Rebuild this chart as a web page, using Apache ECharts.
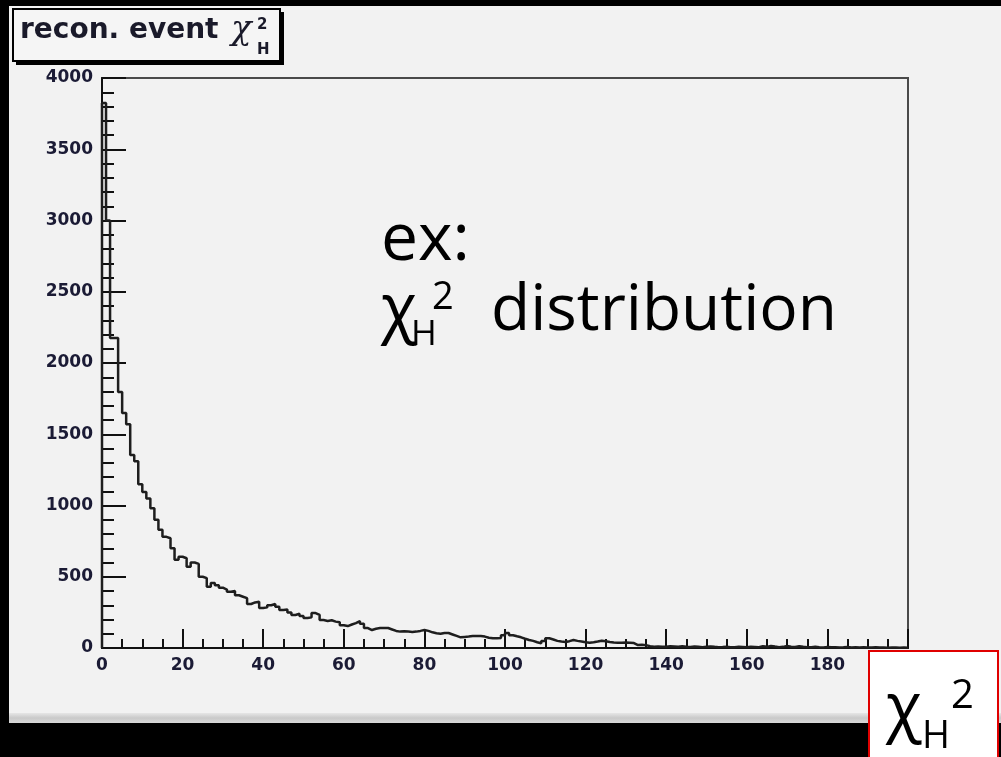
<!DOCTYPE html>
<html>
<head>
<meta charset="utf-8">
<script src="https://cdn.jsdelivr.net/npm/echarts@6/dist/echarts.min.js"></script>
<style>
html,body{margin:0;padding:0;background:#000;}
#c{width:1001px;height:757px;}
</style>
</head>
<body>
<div id="c"></div>
<script>
// ---- data ----
const xMin = 0;
const xMax = 200;
const binWidth = 1;
const yMin = 0;
const yMax = 4000;
const xTickStep = 20;
const yTickStep = 500;
const counts = [
  3825, 3000, 2175, 2175, 1796, 1650, 1570, 1354, 1310, 1150,
  1095, 1050, 980, 900, 830, 780, 770, 700, 620, 640,
  630, 570, 600, 590, 500, 490, 430, 456, 440, 423,
  410, 395, 400, 370, 360, 350, 309, 320, 325, 280,
  285, 300, 309, 290, 267, 270, 250, 232, 240, 225,
  210, 215, 245, 232, 196, 190, 195, 185, 180, 160,
  154, 165, 175, 189, 170, 140, 126, 135, 140, 140,
  140, 130, 120, 115, 118, 115, 112, 115, 120, 126,
  120, 110, 103, 100, 105, 105, 95, 85, 75, 78,
  80, 84, 84, 84, 80, 72, 68, 68, 70, 90,
  105, 90, 82, 75, 65, 56, 50, 40, 33, 50,
  68, 60, 50, 45, 42, 48, 56, 50, 45, 40,
  37, 40, 45, 51, 48, 42, 38, 37, 36, 38,
  37, 35, 21, 22, 20, 12, 9, 10, 8, 9,
  12, 10, 8, 12, 9, 7, 10, 8, 6, 9,
  11, 8, 6, 7, 9, 6, 5, 8, 7, 6,
  9, 7, 5, 12, 8, 15, 10, 6, 8, 14,
  9, 7, 12, 8, 6, 5, 9, 6, 4, 7,
  5, 6, 4, 5, 7, 3, 5, 4, 6, 3,
  4, 5, 3, 4, 2, 3, 4, 2, 3, 2
];
const titleText = "recon. event ";
const titleSymbol = "χ";
const annotLine1 = "ex:";
const annotLine2 = "distribution";
const chiSymbol = "χ";
const subH = "H";
const sup2 = "2";

// ---- build step outline ----
const stepData = [[xMin, 0]];
counts.forEach((c, i) => stepData.push([xMin + i * binWidth, c]));
stepData.push([xMin + counts.length * binWidth, counts[counts.length - 1]]);

const labelColor = '#1b1b35';
const labelFont = {fontFamily: 'DejaVu Sans', fontWeight: 'bold', fontSize: 17, color: labelColor};

const chart = echarts.init(document.getElementById('c'), null, {renderer: 'canvas'});
chart.setOption({
  animation: false,
  backgroundColor: '#f2f2f2',
  grid: {
    left: 102, right: 93, top: 78, bottom: 109,
    show: true, borderColor: '#4a4a4a', borderWidth: 2, backgroundColor: 'transparent'
  },
  xAxis: {
    type: 'value', min: xMin, max: xMax, interval: xTickStep,
    axisLine: {show: true, onZero: false, lineStyle: {color: '#111', width: 2}},
    axisTick: {show: true, inside: true, length: 19, lineStyle: {color: '#111', width: 2}},
    minorTick: {show: true, splitNumber: 4, length: 9, lineStyle: {color: '#111', width: 2}},
    splitLine: {show: false},
    axisLabel: Object.assign({margin: 9, showMaxLabel: false, formatter: v => String(v)}, labelFont)
  },
  yAxis: {
    type: 'value', min: yMin, max: yMax, interval: yTickStep,
    axisLine: {show: true, onZero: false, lineStyle: {color: '#111', width: 2}},
    axisTick: {show: true, inside: true, length: 24, lineStyle: {color: '#111', width: 2}},
    minorTick: {show: true, splitNumber: 5, length: 12, lineStyle: {color: '#111', width: 2}},
    splitLine: {show: false},
    axisLabel: Object.assign({margin: 9, formatter: v => String(v)}, labelFont)
  },
  series: [{
    type: 'line',
    step: 'end',
    data: stepData,
    symbol: 'none',
    lineStyle: {color: '#1e1e1e', width: 2.5},
    z: 3
  }],
  graphic: [
    // black frame around the window
    {type: 'rect', shape: {x: 0, y: 0, width: 1001, height: 6}, style: {fill: '#000'}, silent: true},
    {type: 'rect', shape: {x: 0, y: 0, width: 9, height: 757}, style: {fill: '#000'}, silent: true},
    {type: 'rect', shape: {x: 9, y: 713, width: 992, height: 10},
      style: {fill: new echarts.graphic.LinearGradient(0, 0, 0, 1, [
        {offset: 0, color: '#e6e6e6'}, {offset: 0.5, color: '#c9c9c9'}, {offset: 1, color: '#d8d8d8'}])}, silent: true},
    {type: 'rect', shape: {x: 0, y: 723, width: 1001, height: 34}, style: {fill: '#000'}, silent: true},
    // title box
    {type: 'rect', shape: {x: 16, y: 12, width: 268, height: 53}, style: {fill: '#000'}, silent: true},
    {type: 'rect', shape: {x: 13, y: 9, width: 267, height: 52}, style: {fill: '#f5f5f5', stroke: '#000', lineWidth: 2}, silent: true},
    {type: 'text', x: 20, y: 17, style: {text: titleText, fontFamily: 'DejaVu Sans', fontWeight: 'bold', fontSize: 28, fill: '#1a1a2a'}, silent: true},
    {type: 'text', x: 231, y: 13, style: {text: titleSymbol, fontFamily: 'DejaVu Serif', fontStyle: 'italic', fontSize: 34, fill: '#1a1a2a'}, silent: true},
    {type: 'text', x: 257, y: 18, style: {text: sup2, fontFamily: 'DejaVu Sans', fontWeight: 'bold', fontSize: 15, fill: '#1a1a2a'}, silent: true},
    {type: 'text', x: 257, y: 43, style: {text: subH, fontFamily: 'DejaVu Sans', fontWeight: 'bold', fontSize: 15, fill: '#1a1a2a'}, silent: true},
    // annotation
    {type: 'text', x: 381, y: 208, style: {text: annotLine1, fontFamily: 'Open Sans', fontSize: 66, fill: '#000'}, silent: true},
    {type: 'text', x: 381, y: 278, style: {text: chiSymbol, fontFamily: 'Open Sans', fontSize: 66, fill: '#000'}, silent: true},
    {type: 'text', x: 411, y: 318, style: {text: subH, fontFamily: 'Open Sans', fontSize: 35, fill: '#000'}, silent: true},
    {type: 'text', x: 432, y: 279, style: {text: sup2, fontFamily: 'Open Sans', fontSize: 38, fill: '#000'}, silent: true},
    {type: 'text', x: 491, y: 280, style: {text: annotLine2, fontFamily: 'Open Sans', fontSize: 64, fill: '#000'}, silent: true},
    // red box
    {type: 'rect', shape: {x: 869, y: 651, width: 129, height: 112}, style: {fill: '#fff', stroke: '#e00000', lineWidth: 2}, silent: true},
    {type: 'text', x: 886, y: 677, style: {text: chiSymbol, fontFamily: 'Open Sans', fontSize: 66, fill: '#000'}, silent: true},
    {type: 'text', x: 922, y: 718, style: {text: subH, fontFamily: 'Open Sans', fontSize: 38, fill: '#000'}, silent: true},
    {type: 'text', x: 951, y: 677, style: {text: sup2, fontFamily: 'Open Sans', fontSize: 40, fill: '#000'}, silent: true}
  ]
});
</script>
</body>
</html>
